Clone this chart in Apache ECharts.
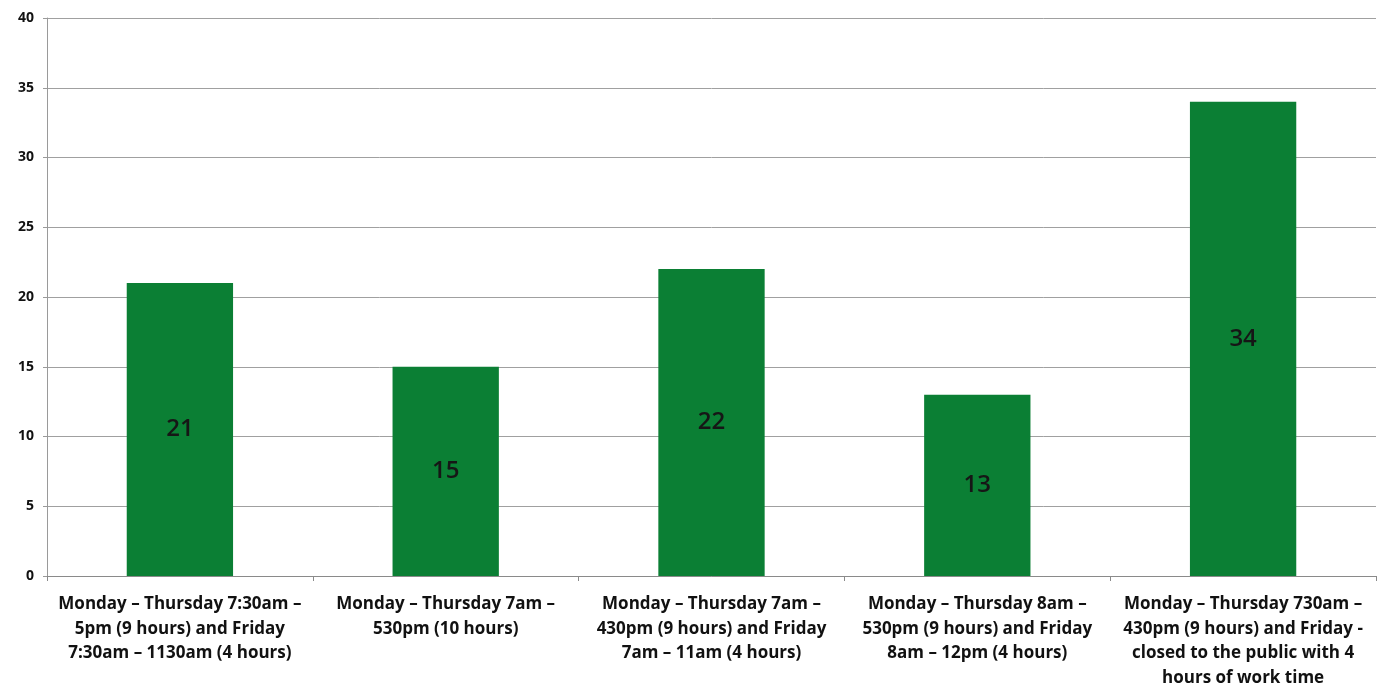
<!DOCTYPE html>
<html>
<head>
<meta charset="utf-8">
<script src="https://cdn.jsdelivr.net/npm/echarts@6/dist/echarts.min.js"></script>
<style>
  html, body { margin: 0; padding: 0; background: #fff; overflow: hidden; }
  #chart { width: 1384px; height: 690px; }
</style>
</head>
<body>
<div id="chart"></div>
<script>
// Work schedule options and the number of votes each received
const categories = [
  'Monday \u2013 Thursday 7:30am \u2013\n5pm (9 hours) and Friday\n7:30am \u2013 1130am (4 hours)',
  'Monday \u2013 Thursday 7am \u2013\n530pm (10 hours)',
  'Monday \u2013 Thursday 7am \u2013\n430pm (9 hours) and Friday\n7am \u2013 11am (4 hours)',
  'Monday \u2013 Thursday 8am \u2013\n530pm (9 hours) and Friday\n8am \u2013 12pm (4 hours)',
  'Monday \u2013 Thursday 730am \u2013\n430pm (9 hours) and Friday -\nclosed to the public with 4\nhours of work time'
];
const votes = [21, 15, 22, 13, 34];
const yTicks = { min: 0, max: 40, interval: 5 };

const chart = echarts.init(document.getElementById('chart'));
chart.setOption({
  animation: false,
  grid: { left: 47, right: 8, top: 18, bottom: 109 },
  xAxis: {
    type: 'category',
    data: categories,
    axisLine: { lineStyle: { color: '#8a8a8a', width: 1 } },
    axisTick: { show: true, length: 5, lineStyle: { color: '#8a8a8a' } },
    axisLabel: {
      interval: 0,
      margin: 16,
      color: '#111',
      fontFamily: 'Open Sans',
      fontWeight: 'bold',
      fontSize: 17,
      lineHeight: 24.5
    }
  },
  yAxis: {
    type: 'value',
    min: yTicks.min,
    max: yTicks.max,
    interval: yTicks.interval,
    axisLine: { show: true, lineStyle: { color: '#9a9a9a' } },
    axisTick: { show: true, length: 4, lineStyle: { color: '#9a9a9a' } },
    splitLine: { lineStyle: { color: '#a0a0a0', width: 1 } },
    axisLabel: {
      color: '#111',
      fontFamily: 'Open Sans',
      fontWeight: 'bold',
      fontSize: 14,
      margin: 13
    }
  },
  series: [{
    type: 'bar',
    data: votes,
    barWidth: '40%',
    itemStyle: { color: '#0b7f34' },
    label: {
      show: true,
      position: 'inside',
      color: '#161616',
      fontFamily: 'Open Sans',
      fontSize: 24,
      fontWeight: 600
    }
  }]
});
</script>
</body>
</html>
